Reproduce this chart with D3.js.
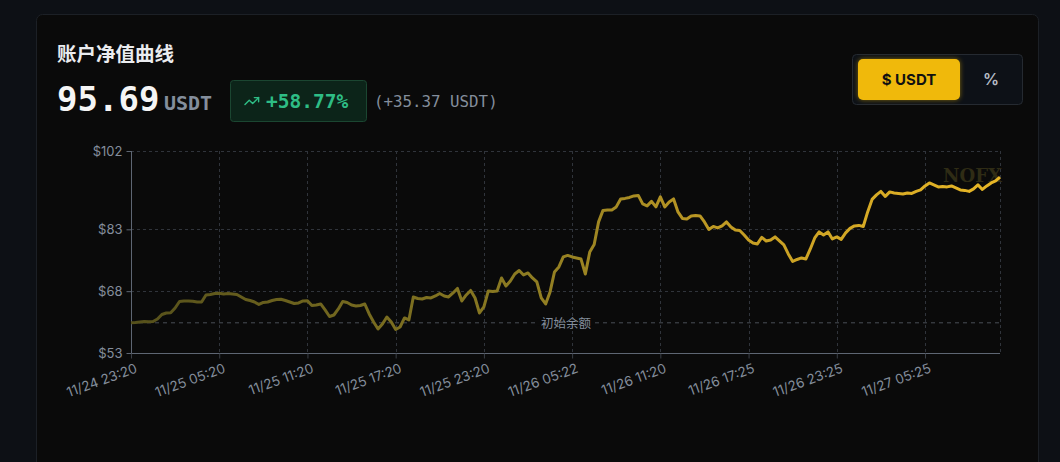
<!DOCTYPE html>
<html><head><meta charset="utf-8">
<script src="https://cdn.jsdelivr.net/npm/d3@7"></script>
<style>
html,body{margin:0;padding:0;background:#0d1015;width:1060px;height:462px;overflow:hidden;}
svg{display:block;}
</style></head>
<body><svg id="c" width="1060" height="462"></svg>
<script>
// ---- data ----
const tickLabels = ["11/24 23:20","11/25 05:20","11/25 11:20","11/25 17:20","11/25 23:20","11/26 05:22","11/26 11:20","11/26 17:25","11/26 23:25","11/27 05:25"];
const tickEvery = 20;
const equity = [
60.32,60.40,60.52,60.65,60.60,60.65,61.25,62.34,62.71,62.78,
63.92,65.50,65.62,65.62,65.55,65.38,65.38,67.08,67.20,67.44,
67.49,67.32,67.44,67.32,67.20,66.59,65.99,65.74,65.38,64.77,
65.26,65.38,65.74,65.99,66.03,65.74,65.38,65.01,65.14,65.62,
65.69,64.53,64.65,64.89,63.44,61.86,62.22,63.68,65.50,65.26,
64.65,64.41,64.53,64.89,62.47,60.52,58.83,60.04,61.74,60.52,
58.70,59.31,61.50,61.01,66.59,66.23,66.11,66.47,66.35,66.83,
67.44,66.83,66.59,67.56,68.66,65.62,67.08,68.17,66.35,62.71,
64.17,68.05,67.93,68.05,71.20,69.26,70.48,72.17,73.02,71.93,
72.42,71.20,70.23,66.35,64.89,67.81,72.66,73.87,76.30,76.67,
76.30,76.06,75.82,72.17,77.51,79.33,84.80,87.59,87.71,87.71,
88.44,90.38,90.50,90.74,91.11,91.23,89.17,88.68,89.77,88.44,
90.86,88.44,89.65,90.38,87.22,85.65,85.52,86.25,86.37,86.25,
84.80,82.98,83.70,83.34,83.83,84.80,83.58,82.85,82.73,81.64,
80.43,79.70,79.46,81.03,80.18,80.43,81.16,80.18,79.21,77.03,
75.21,75.69,76.06,75.82,78.24,80.91,82.37,81.64,82.37,80.67,
81.16,80.55,82.13,83.22,83.83,83.95,83.70,87.22,90.26,91.35,
92.20,90.99,92.08,91.83,91.71,91.59,91.83,91.71,92.20,92.56,
93.53,94.26,93.78,93.29,93.41,93.29,93.53,93.05,92.56,92.44,
92.20,92.81,93.78,92.68,93.53,94.26,94.75,95.69];
const yTicks = [53, 68, 83, 102];
const initialBalance = 60.32;
const currentValue = "95.69";
const pctChange = "+58.77%";
const absChange = "(+35.37 USDT)";
const title = "账户净值曲线";

// ---- drawing ----
const svg = d3.select("#c");
const mono = "'DejaVu Sans Mono', 'Liberation Mono', monospace";
const sans = "Inter, 'Noto Sans', sans-serif";
const cjk = "'Noto Sans CJK SC', sans-serif";

// card
svg.append("rect").attr("x",36.5).attr("y",14.5).attr("width",1002).attr("height",470)
  .attr("rx",6).attr("fill","#0a0a0a").attr("stroke","#1c2026");

svg.append("text").attr("x",57).attr("y",61).text(title)
  .attr("font-family",cjk).attr("font-weight",700).attr("font-size",19.5).attr("fill","#eaecef");

svg.append("text").attr("x",57).attr("y",111).text(currentValue)
  .attr("font-family",mono).attr("font-weight",700).attr("font-size",34).attr("fill","#f5f5f5");
svg.append("text").attr("x",164).attr("y",110).text("USDT")
  .attr("font-family",mono).attr("font-weight",700).attr("font-size",20).attr("fill","#848e9c");

// badge
svg.append("rect").attr("x",230.5).attr("y",80.5).attr("width",136).attr("height",41).attr("rx",3)
  .attr("fill","#0c2419").attr("stroke","#1b4631");
const arrow = svg.append("g").attr("transform","translate(245,101) scale(0.85)").attr("fill","none")
  .attr("stroke","#2ebd85").attr("stroke-width",1.7).attr("stroke-linecap","round").attr("stroke-linejoin","round");
arrow.append("path").attr("d","M0,4 L5,-1 L9,3 L16,-4");
arrow.append("path").attr("d","M11,-4 L16,-4 L16,1");
svg.append("text").attr("x",266).attr("y",108).text(pctChange)
  .attr("font-family",mono).attr("font-weight",700).attr("font-size",19.5).attr("fill","#2ebd85");
svg.append("text").attr("x",374).attr("y",107).text(absChange)
  .attr("font-family",mono).attr("font-size",15.8).attr("fill","#848e9c");

// toggle
svg.append("rect").attr("x",852.5).attr("y",54.5).attr("width",170).attr("height",50).attr("rx",4)
  .attr("fill","#0d1117").attr("stroke","#252a31");
const defs = svg.append("defs");
const glow = defs.append("filter").attr("id","glow").attr("x","-20%").attr("y","-30%").attr("width","140%").attr("height","160%");
glow.append("feGaussianBlur").attr("stdDeviation",2.5);
svg.append("rect").attr("x",858).attr("y",59).attr("width",102).attr("height",41).attr("rx",5)
  .attr("fill","#f0b90b").attr("opacity",0.5).attr("filter","url(#glow)");
svg.append("rect").attr("x",858).attr("y",59).attr("width",102).attr("height",41).attr("rx",5).attr("fill","#f0b90b");
svg.append("text").attr("x",909).attr("y",85).attr("text-anchor","middle").text("$ USDT")
  .attr("font-family",sans).attr("font-weight",700).attr("font-size",15).attr("fill","#111");
svg.append("text").attr("x",991).attr("y",85).attr("text-anchor","middle").text("%")
  .attr("font-family",sans).attr("font-weight",600).attr("font-size",16).attr("fill","#b7bdc6");

// chart
const m = {l:131, r:1000, t:151, b:353};
const x = d3.scaleLinear().domain([0, equity.length-1]).range([m.l, m.r]);
const y = d3.scaleLinear().domain([53, 102]).range([m.b, m.t]);

const grid = svg.append("g").attr("stroke","#30343b").attr("stroke-dasharray","3,3").attr("stroke-width",1);
yTicks.forEach(v => grid.append("line").attr("x1",m.l).attr("x2",m.r).attr("y1",Math.round(y(v))+0.5).attr("y2",Math.round(y(v))+0.5));
const xTickIdx = tickLabels.map((d,i)=>i*tickEvery);
xTickIdx.concat([equity.length-1]).forEach(i => grid.append("line")
  .attr("x1",Math.round(x(i))+0.5).attr("x2",Math.round(x(i))+0.5).attr("y1",m.t).attr("y2",m.b));

// y axis
const yAxis = svg.append("g").attr("transform",`translate(${m.l+0.5},0)`)
  .call(d3.axisLeft(y).tickValues(yTicks).tickFormat(d=>"$"+d).tickSize(5).tickPadding(4));
yAxis.selectAll("path,line").attr("stroke","#5e6673");
yAxis.select(".domain").attr("d",`M0,${m.t}V${m.b}`);
yAxis.selectAll("text").attr("fill","#848e9c").attr("font-family",sans).attr("font-size",13);

// x axis
const xAxis = svg.append("g").attr("transform",`translate(0,${m.b+0.5})`)
  .call(d3.axisBottom(x).tickValues(xTickIdx).tickFormat((d,i)=>tickLabels[i]).tickSize(5));
xAxis.selectAll("path,line").attr("stroke","#3a3f47");
xAxis.select(".domain").attr("stroke","#5e6673").attr("d",`M${m.l},0H${m.r}`);
xAxis.selectAll("text").attr("fill","#848e9c").attr("font-family",sans).attr("font-size",13.5)
  .attr("text-anchor","end").attr("y",0).attr("dy","0.75em").attr("transform","translate(3,9) rotate(-20)");

// initial balance line
svg.append("line").attr("x1",m.l).attr("x2",m.r).attr("y1",y(initialBalance)).attr("y2",y(initialBalance))
  .attr("stroke","#4a4f57").attr("stroke-dasharray","4,4").attr("stroke-width",1);
svg.append("rect").attr("x",537).attr("y",y(initialBalance)-3).attr("width",58).attr("height",6).attr("fill","#0a0a0a");
svg.append("text").attr("x",566).attr("y",y(initialBalance)+5).attr("text-anchor","middle").text("初始余额")
  .attr("font-family",cjk).attr("font-size",12.5).attr("fill","#848e9c");

// watermark
svg.append("text").attr("x",1002).attr("y",182).attr("text-anchor","end").text("NOFX")
  .attr("font-family","'DejaVu Serif', 'Liberation Serif', serif").attr("font-weight",700).attr("font-size",18)
  .attr("fill","#2f2c15");

// line gradient
const lg = defs.append("linearGradient").attr("id","lg").attr("gradientUnits","userSpaceOnUse")
  .attr("x1",m.l).attr("x2",m.r).attr("y1",0).attr("y2",0);
lg.append("stop").attr("offset","0%").attr("stop-color","#55501b");
lg.append("stop").attr("offset","45%").attr("stop-color","#8c7b22");
lg.append("stop").attr("offset","70%").attr("stop-color","#c49d24");
lg.append("stop").attr("offset","100%").attr("stop-color","#e8b726");

svg.append("path").datum(equity)
  .attr("d", d3.line().x((d,i)=>x(i)).y(d=>y(d)))
  .attr("fill","none").attr("stroke","url(#lg)").attr("stroke-width",3).attr("stroke-linejoin","round");
</script></body></html>
